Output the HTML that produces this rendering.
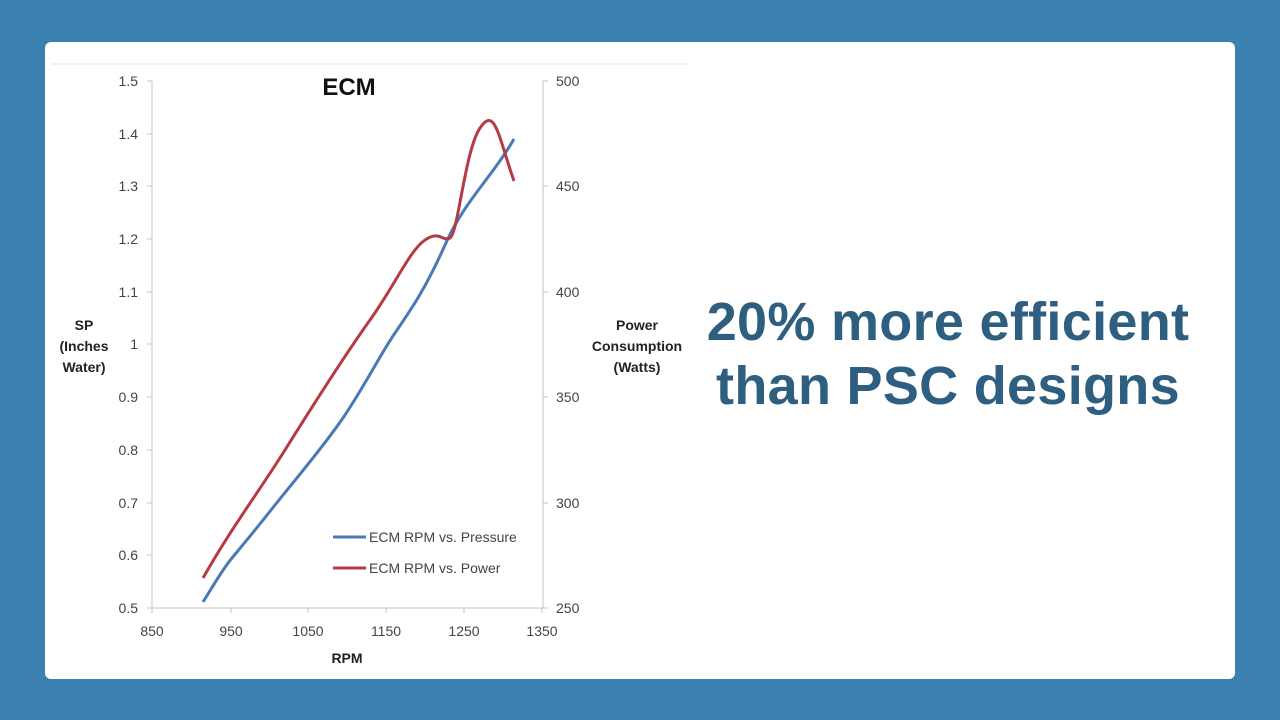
<!DOCTYPE html>
<html><head><meta charset="utf-8"><style>
html,body{margin:0;padding:0;width:1280px;height:720px;background:#3a80b0;overflow:hidden}
.card{position:absolute;left:45px;top:42px;width:1190px;height:637px;background:#fff;border-radius:6px}
svg{position:absolute;left:0;top:0}
.big{position:absolute;left:688px;width:520px;top:290px;text-align:center;font-family:"Liberation Sans",sans-serif;font-weight:bold;font-size:54px;line-height:64px;color:#2e5e80;letter-spacing:0.3px}
</style></head><body>
<div class="card"></div>
<svg width="1280" height="720" font-family="Liberation Sans, sans-serif">
<line x1="52" y1="64" x2="690" y2="64" stroke="#e4e4e4" stroke-width="1"/>
<g stroke="#c4c4c4" stroke-width="1" fill="none">
<line x1="152" y1="81" x2="152" y2="608"/>
<line x1="543" y1="81" x2="543" y2="608"/>
<line x1="152" y1="608" x2="543" y2="608"/>
<path d="M147 81H152M147 134H152M147 186H152M147 239H152M147 292H152M147 344H152M147 397H152M147 450H152M147 503H152M147 555H152M147 608H152"/>
<path d="M543 81H548M543 186H548M543 292H548M543 397H548M543 503H548M543 608H548"/>
<path d="M152 608V613M231 608V613M308 608V613M386 608V613M464 608V613M542 608V613"/>
</g>
<g font-size="14" fill="#444" text-anchor="end">
<text x="138" y="86">1.5</text><text x="138" y="139">1.4</text><text x="138" y="191">1.3</text><text x="138" y="244">1.2</text><text x="138" y="297">1.1</text><text x="138" y="349">1</text><text x="138" y="402">0.9</text><text x="138" y="455">0.8</text><text x="138" y="508">0.7</text><text x="138" y="560">0.6</text><text x="138" y="613">0.5</text>
</g>
<g font-size="14" fill="#444">
<text x="556" y="86">500</text><text x="556" y="191">450</text><text x="556" y="297">400</text><text x="556" y="402">350</text><text x="556" y="508">300</text><text x="556" y="613">250</text>
</g>
<g font-size="14" fill="#444" text-anchor="middle">
<text x="152" y="636">850</text><text x="231" y="636">950</text><text x="308" y="636">1050</text><text x="386" y="636">1150</text><text x="464" y="636">1250</text><text x="542" y="636">1350</text>
</g>
<text x="349" y="95" font-size="24" font-weight="bold" text-anchor="middle" fill="#111">ECM</text>
<g font-size="14" font-weight="bold" fill="#222" text-anchor="middle">
<text x="347" y="663">RPM</text>
<text x="84" y="330">SP</text><text x="84" y="351">(Inches</text><text x="84" y="372">Water)</text>
<text x="637" y="330">Power</text><text x="637" y="351">Consumption</text><text x="637" y="372">(Watts)</text>
</g>
<path d="M203 602 C215 583 222 570 232 558 S260 524 275 505 S325 445 345 415 S380 355 395 333 S425 290 445 245 S490 180 514 139" fill="none" stroke="#4a7ab5" stroke-width="3"/>
<path d="M203 578 C230 530 260 490 285 450 S345 355 370 320 S410 250 425 240 S442 242 450 238 S465 150 480 128 S498 135 514 181" fill="none" stroke="#b53a44" stroke-width="3"/>
<line x1="333" y1="537" x2="366" y2="537" stroke="#4a7ab5" stroke-width="3"/>
<line x1="333" y1="568" x2="366" y2="568" stroke="#b53a44" stroke-width="3"/>
<g font-size="14" fill="#444"><text x="369" y="542">ECM RPM vs. Pressure</text><text x="369" y="573">ECM RPM vs. Power</text></g>
</svg>
<div class="big">20% more efficient<br>than PSC designs</div>
</body></html>
